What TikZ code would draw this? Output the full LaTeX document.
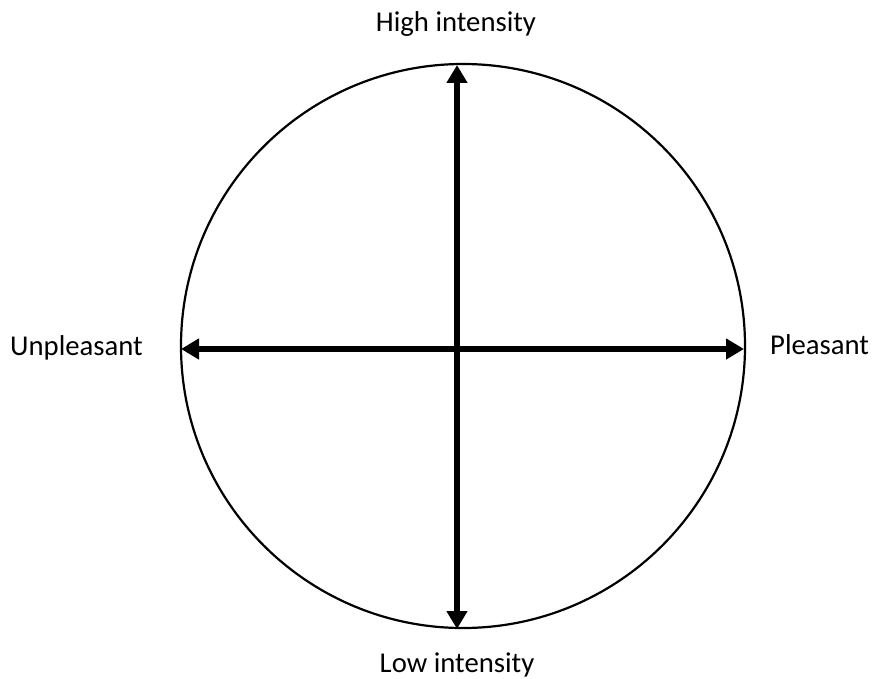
\documentclass[tikz,border=0pt]{standalone}
\usepackage{fontspec}
\setmainfont{Carlito}
\usetikzlibrary{arrows.meta,positioning}

\begin{document}
\begin{tikzpicture}[x=1pt,y=-1pt,>={Triangle[length=18pt,width=20pt]},
  axisarrow/.style={<->,line width=6pt},
  pole/.style={font=\fontsize{28.7}{34}\selectfont,inner sep=0pt}]
  \useasboundingbox (0,0) rectangle (872,679);
  % circle
  \node[draw,circle,line width=2.2pt,minimum size=564pt,inner sep=0pt] (disc) at (463,346) {};

  % axis ends
  \coordinate (top) at (457,65);
  \coordinate (bottom) at (457,629);
  \coordinate (left) at (181,349);
  \coordinate (right) at (744,349);

  % labels
  \node[pole,anchor=base] (high) at (456,32) {High intensity};
  \node[pole,anchor=base] (low) at (457,672) {Low intensity};
  \node[pole,anchor=base east] (unpl) at (143,355) {Unpleasant};
  \node[pole,anchor=base west] (pleas) at (770,354) {Pleasant};

  % axes
  \draw[axisarrow] (bottom) -- (top);
  \draw[axisarrow] (left) -- (right);
\end{tikzpicture}
\end{document}
